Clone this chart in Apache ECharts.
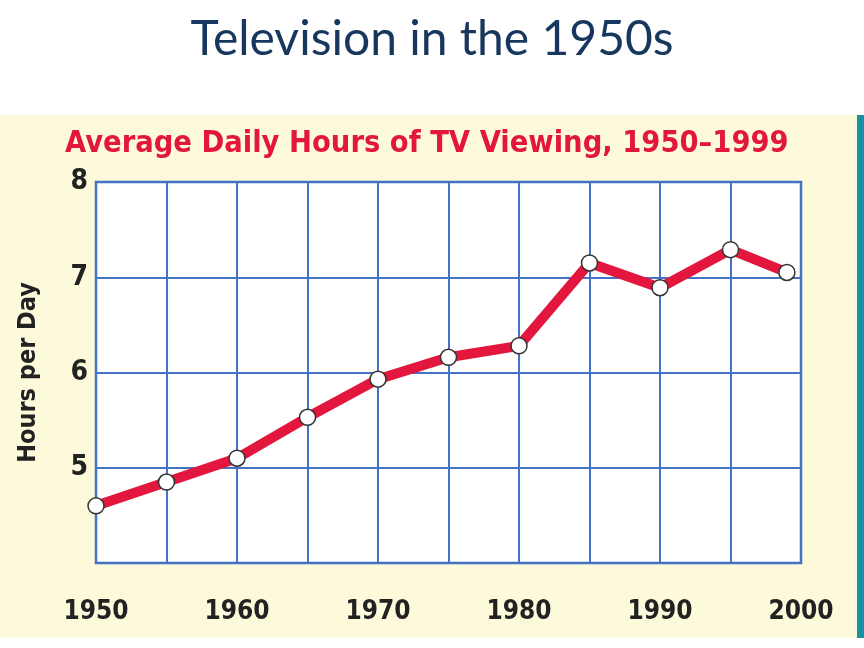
<!DOCTYPE html>
<html>
<head>
<meta charset="utf-8">
<title>Television in the 1950s</title>
<script src="https://cdn.jsdelivr.net/npm/echarts@6/dist/echarts.min.js"></script>
<style>
  html, body { margin: 0; padding: 0; background: #fff; }
  #chart { width: 864px; height: 648px; }
</style>
</head>
<body>
<div id="chart"></div>
<script>
// values
const years = [1950, 1955, 1960, 1965, 1970, 1975, 1980, 1985, 1990, 1995, 1999]
const hours = [4.6, 4.85, 5.1, 5.53, 5.93, 6.16, 6.28, 7.15, 6.89, 7.29, 7.05]
const xTicks = [1950, 1960, 1970, 1980, 1990, 2000]
const yTicks = [5, 6, 7, 8]

const narrow = '"DejaVu Sans Condensed", sans-serif'

const chart = echarts.init(document.getElementById('chart'))

const option = {
  backgroundColor: '#ffffff',
  animation: false,
  graphic: [
    // cream panel behind the chart
    { type: 'rect', z: -10, shape: { x: 0, y: 115, width: 857, height: 523 }, style: { fill: '#FDFADC' } },
    // teal edge on the right
    { type: 'rect', z: -10, shape: { x: 857, y: 115, width: 7, height: 523 }, style: { fill: '#1790A3' } }
  ],
  title: [
    {
      text: 'Television in the 1950s',
      left: 'center',
      top: 11,
      textStyle: { fontFamily: 'Lato, "Open Sans", sans-serif', fontWeight: 'normal', fontSize: 48, color: '#17375E' }
    },
    {
      text: 'Average Daily Hours of TV Viewing, 1950\u20131999',
      left: 60,
      top: 124,
      textStyle: { fontFamily: narrow, fontWeight: 'bold', fontSize: 30.5, color: '#E3173E' }
    }
  ],
  grid: {
    left: 96,
    top: 182,
    right: 63,
    bottom: 85,
    outerBoundsMode: 'none',
    show: true,
    backgroundColor: '#ffffff',
    borderColor: '#3E6CC2',
    borderWidth: 2.5
  },
  xAxis: {
    type: 'value',
    min: 1950,
    max: 2000,
    interval: 5,
    axisLine: { show: false },
    axisTick: { show: false },
    splitLine: { show: true, lineStyle: { color: '#4472C4', width: 2 } },
    axisLabel: {
      margin: 36,
      fontFamily: narrow,
      fontWeight: 'bold',
      fontSize: 26,
      color: '#222222',
      formatter: v => (xTicks.includes(v) ? String(v) : '')
    }
  },
  yAxis: {
    type: 'value',
    min: 4,
    max: 8,
    interval: 1,
    name: 'Hours per Day',
    nameLocation: 'middle',
    nameGap: 55,
    nameTextStyle: { fontFamily: narrow, fontWeight: 'bold', fontSize: 25, color: '#222222' },
    axisLine: { show: false },
    axisTick: { show: false },
    splitLine: { show: true, lineStyle: { color: '#4472C4', width: 2 } },
    axisLabel: {
      margin: 8,
      fontFamily: narrow,
      fontWeight: 'bold',
      fontSize: 28,
      color: '#222222',
      formatter: v => (yTicks.includes(v) ? String(v) : '')
    }
  },
  series: [
    {
      type: 'line',
      data: years.map((y, i) => [y, hours[i]]),
      lineStyle: { color: '#E3173E', width: 10 },
      symbol: 'circle',
      symbolSize: 16,
      itemStyle: { color: '#ffffff', borderColor: '#333333', borderWidth: 1.5 },
      z: 5
    }
  ]
}

chart.setOption(option)
</script>
</body>
</html>
